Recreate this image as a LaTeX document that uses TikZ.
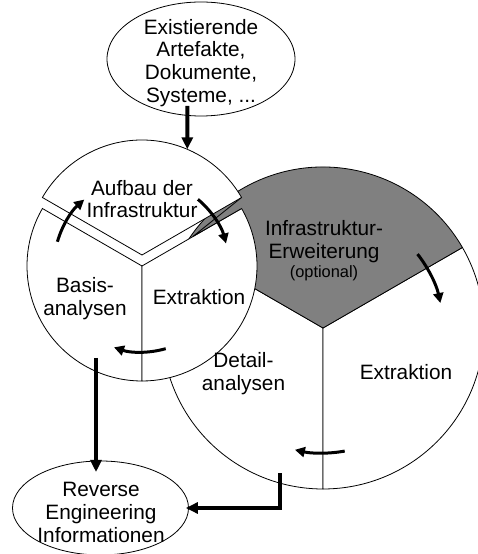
\documentclass[tikz,border=0pt]{standalone}
\usepackage{fontspec}
\setmainfont{Liberation Sans}
\usetikzlibrary{shapes.geometric,arrows.meta}
\begin{document}
\begin{tikzpicture}[x=1pt,y=1pt,
  outline/.style={draw=black,line width=0.8pt},
  sector/.style={outline,fill=white},
  lbl/.style={align=center,inner sep=0pt,font=\fontsize{20.8}{22.8}\selectfont},
  small/.style={font=\fontsize{16.4}{18}\selectfont},
  flow/.style={line width=4pt,-{Triangle[length=12pt,width=11pt]}},
  turn/.style={line width=3pt,-{Triangle[length=10pt,width=10pt]}}]
\useasboundingbox (0,0) rectangle (478,554);
\clip (0,0) rectangle (478,554);

% centres of the two process wheels
\coordinate (BC) at (323,226);
\coordinate (SC) at (142,288);
\coordinate (ST) at (142,299);

% large wheel
\draw[sector] (BC) -- ++(150:161) arc[start angle=150,end angle=270,radius=161] -- cycle;
\draw[sector] (BC) -- ++(270:161) arc[start angle=270,end angle=390,radius=161] -- cycle;
\draw[outline,fill=gray] (BC) -- ++(30:161) arc[start angle=30,end angle=150,radius=161] -- cycle;

% small wheel, top sector pulled out
\draw[sector] (SC) -- ++(150:115) arc[start angle=150,end angle=270,radius=115] -- cycle;
\draw[sector] (SC) -- ++(270:115) arc[start angle=270,end angle=390,radius=115] -- cycle;
\draw[sector] (ST) -- ++(30:115) arc[start angle=30,end angle=150,radius=115] -- cycle;

% grey sliver showing through the gap
\path (SC) ++(30:115) coordinate (gapB);
\path (ST) ++(30:115) coordinate (gapA);
\coordinate (gapTip) at (193,317.6);
\fill[gray] (gapTip) -- (gapA) -- (gapB) -- cycle;
\draw[outline] (gapA) -- (gapTip) -- (gapB);

% rotation arrows
\draw[turn] (SC) ++(164:88) arc[start angle=164,end angle=131,radius=88];
\draw[turn] (SC) ++(50:87) arc[start angle=50,end angle=15,radius=87];
\draw[turn] (SC) ++(-74:86) arc[start angle=-74,end angle=-109,radius=86];
\draw[turn] (BC) ++(38:120) arc[start angle=38,end angle=12,radius=120];
\draw[turn] (BC) ++(-80:125) arc[start angle=-80,end angle=-103,radius=125];

% input and output
\node[ellipse,outline,minimum width=188pt,minimum height=114pt,inner sep=0pt] (src) at (201,495) {};
\node[lbl] (srcText) at (201,491) {Existierende\\Artefakte,\\Dokumente,\\Systeme, ...};
\node[ellipse,outline,minimum width=176pt,minimum height=94pt,inner sep=0pt] (dst) at (100.5,46) {};
\node[lbl] (dstText) at (101,41.5) {Reverse\\Engineering\\Informationen};

% sector labels
\node[lbl] (tAufbau) at (142,355) {Aufbau der\\Infrastruktur};
\node[lbl] (tBasis) at (85,255) {Basis-\\analysen};
\node[lbl] (tExtrA) at (199,256.5) {Extraktion};
\node[lbl] (tErw) at (324,303.2) {Infrastruktur-\\Erweiterung\\[-3pt]{\small\fontsize{16.4}{18}\selectfont (optional)}};
\node[lbl] (tExtrB) at (406,181.5) {Extraktion};
\node[lbl] (tDetail) at (243.5,180.7) {Detail-\\analysen};

% flow connectors
\coordinate (srcOut) at (187.3,448);
\path (ST) ++(66.8:115) coordinate (stIn);
\draw[flow] (srcOut) -- (stIn);
\coordinate (basisOut) at (96,196);
\coordinate (dstTop) at (96,82);
\draw[flow] (basisOut) -- (dstTop);
\coordinate (detailOut) at (280,80.7);
\draw[flow] (detailOut) |- ([xshift=-3pt]dst.east);
\end{tikzpicture}
\end{document}
